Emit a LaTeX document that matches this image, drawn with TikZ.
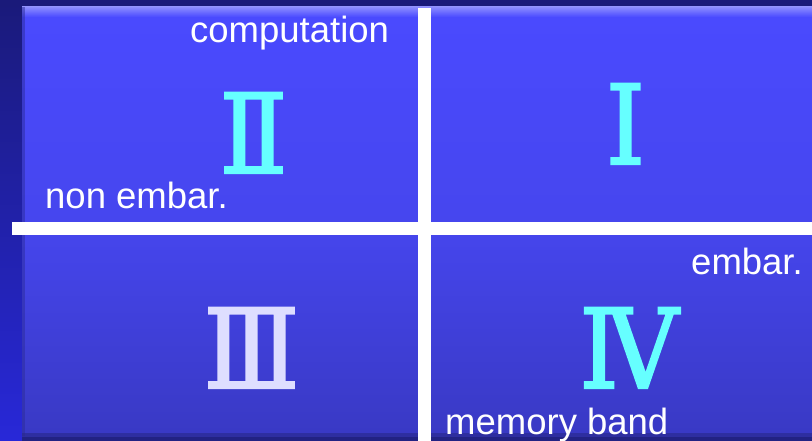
\documentclass[tikz,border=0pt]{standalone}
\usepackage{fontspec}
\setmainfont{Liberation Sans}
\newfontfamily\numfont[FakeBold=2,FakeStretch=0.9]{DejaVu Serif}
\definecolor{darkband}{HTML}{1A1A7A}
\definecolor{stripbot}{HTML}{2828D8}
\definecolor{paneltop}{HTML}{4A4AFF}
\definecolor{panelmid}{HTML}{4646EE}
\definecolor{panelbot}{HTML}{3939C4}
\definecolor{hilite}{HTML}{8C8CFF}
\definecolor{numcyan}{HTML}{66FFFF}
\definecolor{numlav}{HTML}{DEDEFF}
\tikzset{
  lbl/.style={anchor=base west, inner sep=0pt, text=white, font=\fontsize{36.5}{40}\selectfont},
  numeral/.style={anchor=base, inner sep=0pt, font=\numfont\fontsize{110}{118}\selectfont},
  crossline/.style={fill=white, draw=none}
}
\begin{document}
\begin{tikzpicture}[x=1pt,y=-1pt]
\useasboundingbox (0,0) rectangle (812,441);
% background
\fill[darkband] (0,0) rectangle (812,441);
\shade[top color=darkband, bottom color=stripbot] (0,0) rectangle (22,441);
\fill[darkband] (0,0) rectangle (812,7);
% panel
\shade[top color=paneltop, bottom color=panelbot, middle color=panelmid] (22,7) rectangle (812,436);
\shade[top color=hilite, bottom color=paneltop] (22,7) rectangle (812,17);
\fill[black!40!paneltop, opacity=0.5] (22,7) rectangle (25,436);
\fill[panelbot!70!black, opacity=0.6] (22,433) rectangle (812,441);
% cross
\coordinate (hl) at (12,222);
\coordinate (hr) at (812,235);
\coordinate (vt) at (418,8);
\coordinate (vb) at (431,441);
\fill[crossline] (hl) rectangle (hr);
\fill[crossline] (vt) rectangle (vb);
% labels
\node[lbl] (comp) at (190,43) {computation};
\node[lbl] (nonemb) at (45,208) {non embar.};
\node[lbl] (emb) at (691,274) {embar.};
\node[lbl] (mem) at (445,434) {memory band};
% numerals
\node[numeral, text=numcyan] (two) at (253.5,173) {Ⅱ};
\node[numeral, text=numcyan] (one) at (625.5,164) {Ⅰ};
\node[numeral, text=numlav] (three) at (251.5,388) {Ⅲ};
\node[numeral, text=numcyan] (four) at (629,388) {Ⅳ};
\end{tikzpicture}
\end{document}
